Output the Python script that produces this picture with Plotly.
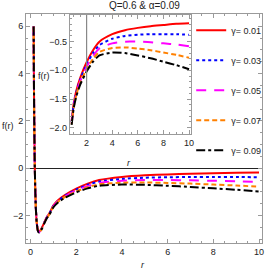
import plotly.graph_objects as go

# ---- data ----
r = [0.134, 0.14, 0.15, 0.16, 0.18, 0.2, 0.23, 0.27, 0.32, 0.37, 0.43, 0.5, 0.6, 0.7,
     0.83, 1.0, 1.2, 1.5, 2.0, 2.5, 3.0, 4.0, 5.0, 6.0, 7.0, 8.0, 9.0, 10.0]

f_g001 = [6.00, 4.83, 3.30, 2.11, 0.42, -0.68, -1.66, -2.30, -2.62, -2.69, -2.63, -2.50, -2.29, -2.08,
          -1.89, -1.57, -1.35, -1.13, -0.86, -0.65, -0.50, -0.37, -0.30, -0.26, -0.23, -0.21, -0.19, -0.18]
f_g003 = [6.00, 4.83, 3.30, 2.10, 0.41, -0.69, -1.67, -2.31, -2.63, -2.70, -2.64, -2.52, -2.30, -2.09,
          -1.90, -1.59, -1.38, -1.16, -0.90, -0.70, -0.56, -0.45, -0.40, -0.38, -0.37, -0.37, -0.37, -0.38]
f_g005 = [5.99, 4.82, 3.29, 2.10, 0.41, -0.69, -1.67, -2.31, -2.64, -2.70, -2.65, -2.53, -2.31, -2.11,
          -1.92, -1.61, -1.40, -1.19, -0.94, -0.75, -0.62, -0.53, -0.50, -0.50, -0.51, -0.53, -0.55, -0.58]
f_g007 = [5.99, 4.82, 3.29, 2.10, 0.41, -0.69, -1.68, -2.32, -2.64, -2.71, -2.66, -2.54, -2.32, -2.12,
          -1.94, -1.63, -1.42, -1.22, -0.98, -0.80, -0.68, -0.61, -0.60, -0.62, -0.65, -0.69, -0.73, -0.78]
f_g009 = [5.99, 4.82, 3.29, 2.10, 0.40, -0.70, -1.68, -2.32, -2.65, -2.72, -2.67, -2.55, -2.33, -2.13,
          -1.95, -1.65, -1.45, -1.25, -1.02, -0.85, -0.74, -0.69, -0.70, -0.74, -0.79, -0.85, -0.91, -0.98]

series_names = ["γ= 0.01", "γ= 0.03", "γ= 0.05", "γ= 0.07", "γ= 0.09"]
series_values = [f_g001, f_g003, f_g005, f_g007, f_g009]
inset_start = 14  # index of first r shown in inset (r = 0.83)

colors = ["#ff0000", "#0000ff", "#ff00ff", "#ff8000", "#000000"]
dashes = ["solid", "dot", "10px,8px", "5px,3px", "dashdot"]

FONT = "Liberation Sans Narrow, Liberation Sans, Arial"

fig = go.Figure()
for name, vals, c, d in zip(series_names, series_values, colors, dashes):
    fig.add_trace(go.Scatter(x=r, y=vals, mode="lines", name=name,
                             line=dict(color=c, dash=d, width=2, shape="spline", smoothing=0.5),
                             xaxis="x", yaxis="y", showlegend=True, legendgroup=name))
for name, vals, c, d in zip(series_names, series_values, colors, dashes):
    fig.add_trace(go.Scatter(x=r[inset_start:], y=vals[inset_start:], mode="lines", name=name,
                             line=dict(color=c, dash=d, width=2, shape="spline", smoothing=0.6),
                             xaxis="x2", yaxis="y2", showlegend=False))

frame = "#9a9a9a"
common = dict(showgrid=False, showline=True, linecolor=frame, linewidth=1, mirror="allticks",
              ticks="inside", tickcolor=frame, ticklen=4, tickwidth=1, automargin=False,
              tickfont=dict(family=FONT, size=9, color="#222"))

fig.update_layout(
    width=266, height=280,
    margin=dict(l=26, r=4, t=14, b=37, autoexpand=False),
    paper_bgcolor="white", plot_bgcolor="white",
    xaxis=dict(domain=[0, 1], range=[-0.2, 10.13], tickvals=[0, 2, 4, 6, 8, 10],
               minor=dict(dtick=0.5, ticks="inside", ticklen=2, tickcolor=frame),
               zeroline=False, **common),
    yaxis=dict(domain=[0, 1], range=[-3.16, 6.52], tickvals=[-2, 0, 2, 4, 6],
               minor=dict(dtick=0.5, ticks="inside", ticklen=2, tickcolor=frame),
               zeroline=True, zerolinecolor="#222", zerolinewidth=1, **common),
    xaxis2=dict(domain=[0.186, 0.699], anchor="y2", range=[0.695, 10.15], tickvals=[2, 4, 6, 8, 10],
                minor=dict(dtick=0.5, ticks="inside", ticklen=2, tickcolor=frame),
                zeroline=False, **common),
    yaxis2=dict(domain=[0.476, 0.996], anchor="x2", range=[-2.11, -0.034],
                tickvals=[-2.0, -1.5, -1.0, -0.5], tickformat=".1f",
                minor=dict(dtick=0.1, ticks="inside", ticklen=2, tickcolor=frame),
                zeroline=False, **common),
    legend=dict(x=0.70, y=0.992, xanchor="left", yanchor="top", bgcolor="rgba(255,255,255,0)",
                font=dict(family=FONT, size=9, color="#222"), itemwidth=30,
                tracegroupgap=11),
    showlegend=True,
)

# inset axis line at r = 2
fig.add_shape(type="line", xref="x2", yref="y2 domain", x0=2, x1=2, y0=0, y1=1,
              line=dict(color="#888", width=1.2))

lab = dict(family=FONT, size=9, color="#222")
ann = dict(xref="paper", yref="paper", showarrow=False, xanchor="center", yanchor="middle")
fig.add_annotation(text="Q=0.6 & α=0.09", x=0.5, y=1.035,
                   font=dict(family=FONT, size=10, color="#222"), **ann)
fig.add_annotation(text="f(r)", x=-0.076, y=0.513, font=lab, **ann)
fig.add_annotation(text="<i>r</i>", x=0.496, y=-0.096, font=lab, **ann)
fig.add_annotation(text="f(r)", x=0.076, y=0.729, font=lab, **ann)
fig.add_annotation(text="<i>r</i>", x=0.436, y=0.349, font=lab, **ann)

fig.write_html("out.html", config={"displayModeBar": False},
               post_script="document.body.style.margin='0';")
